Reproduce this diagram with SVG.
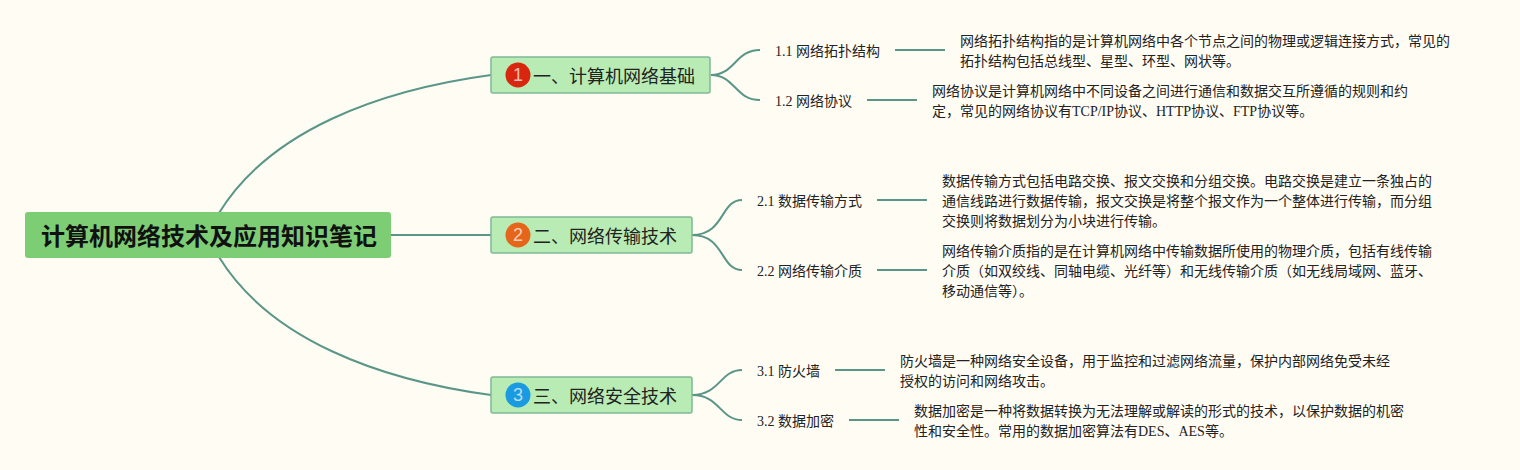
<svg xmlns="http://www.w3.org/2000/svg" width="1520" height="470" viewBox="0 0 1520 470">
<style>
text{font-family:"Liberation Serif","Noto Sans CJK SC",serif;fill:#222}
.t{font-size:14px}
.b{font-family:"Noto Sans CJK SC",sans-serif;font-size:18px;fill:#222}
.r{font-family:"Noto Sans CJK SC",sans-serif;font-size:24px;font-weight:700;fill:#111}
.n{font-family:"Liberation Sans",sans-serif;font-size:18px;fill:#fff;fill-opacity:.7;text-anchor:middle}
.box{fill:#b9ecb4;stroke:#7fb896;stroke-width:1.5}
.c{fill:none;stroke:#5a9688;stroke-width:2}
</style>
<rect width="1520" height="470" fill="#fffcf4"/>
<g id="connectors" class="c">
<path d="M219 213C270 130 380 90 491 75"/>
<path d="M391 235H491"/>
<path d="M219 257C270 340 380 380 491 395"/>
<path d="M711 75C735 75 735 50 760 50"/>
<path d="M711 75C735 75 735 100 760 100"/>
<path d="M692 235C725 235 720 200 742 200"/>
<path d="M692 235C725 235 720 270 742 270"/>
<path d="M692 395C720 395 720 370 742 370"/>
<path d="M692 395C720 395 720 420 742 420"/>
<path d="M895 50H945"/>
<path d="M867 100H917"/>
<path d="M877 200H927"/>
<path d="M877 270H927"/>
<path d="M835 370H885"/>
<path d="M849 420H899"/>
</g>
<g id="root"><rect x="25" y="212" width="366" height="46" rx="3" fill="#7dcd75"/><text class="r" x="41" y="245">计算机网络技术及应用知识笔记</text></g>
<g id="b1"><rect class="box" x="491" y="57" width="219" height="36" rx="2"/><circle cx="518" cy="75" r="12.5" fill="#d9260f"/><text class="n" x="518" y="81">1</text><text class="b" x="533" y="83">一、计算机网络基础</text></g>
<g id="b2"><rect class="box" x="491" y="217" width="201" height="36" rx="2"/><circle cx="518" cy="235" r="12.5" fill="#e5661a"/><text class="n" x="518" y="241">2</text><text class="b" x="533" y="243">二、网络传输技术</text></g>
<g id="b3"><rect class="box" x="491" y="377" width="201" height="36" rx="2"/><circle cx="518" cy="395" r="12.5" fill="#1a9ae0"/><text class="n" x="518" y="401">3</text><text class="b" x="533" y="403">三、网络安全技术</text></g>
<g id="n11"><text class="t" x="775" y="56">1.1 网络拓扑结构</text></g>
<g id="n12"><text class="t" x="775" y="106">1.2 网络协议</text></g>
<g id="n21"><text class="t" x="757" y="206">2.1 数据传输方式</text></g>
<g id="n22"><text class="t" x="757" y="276">2.2 网络传输介质</text></g>
<g id="n31"><text class="t" x="757" y="376">3.1 防火墙</text></g>
<g id="n32"><text class="t" x="757" y="426">3.2 数据加密</text></g>
<g id="d11"><text class="t" x="960" y="46">网络拓扑结构指的是计算机网络中各个节点之间的物理或逻辑连接方式，常见的</text><text class="t" x="960" y="66">拓扑结构包括总线型、星型、环型、网状等。</text></g>
<g id="d12"><text class="t" x="932" y="96">网络协议是计算机网络中不同设备之间进行通信和数据交互所遵循的规则和约</text><text class="t" x="932" y="116">定，常见的网络协议有TCP/IP协议、HTTP协议、FTP协议等。</text></g>
<g id="d21"><text class="t" x="942" y="186">数据传输方式包括电路交换、报文交换和分组交换。电路交换是建立一条独占的</text><text class="t" x="942" y="206">通信线路进行数据传输，报文交换是将整个报文作为一个整体进行传输，而分组</text><text class="t" x="942" y="226">交换则将数据划分为小块进行传输。</text></g>
<g id="d22"><text class="t" x="942" y="256">网络传输介质指的是在计算机网络中传输数据所使用的物理介质，包括有线传输</text><text class="t" x="942" y="276">介质（如双绞线、同轴电缆、光纤等）和无线传输介质（如无线局域网、蓝牙、</text><text class="t" x="942" y="296">移动通信等）。</text></g>
<g id="d31"><text class="t" x="900" y="366">防火墙是一种网络安全设备，用于监控和过滤网络流量，保护内部网络免受未经</text><text class="t" x="900" y="386">授权的访问和网络攻击。</text></g>
<g id="d32"><text class="t" x="914" y="416">数据加密是一种将数据转换为无法理解或解读的形式的技术，以保护数据的机密</text><text class="t" x="914" y="436">性和安全性。常用的数据加密算法有DES、AES等。</text></g>
</svg>
